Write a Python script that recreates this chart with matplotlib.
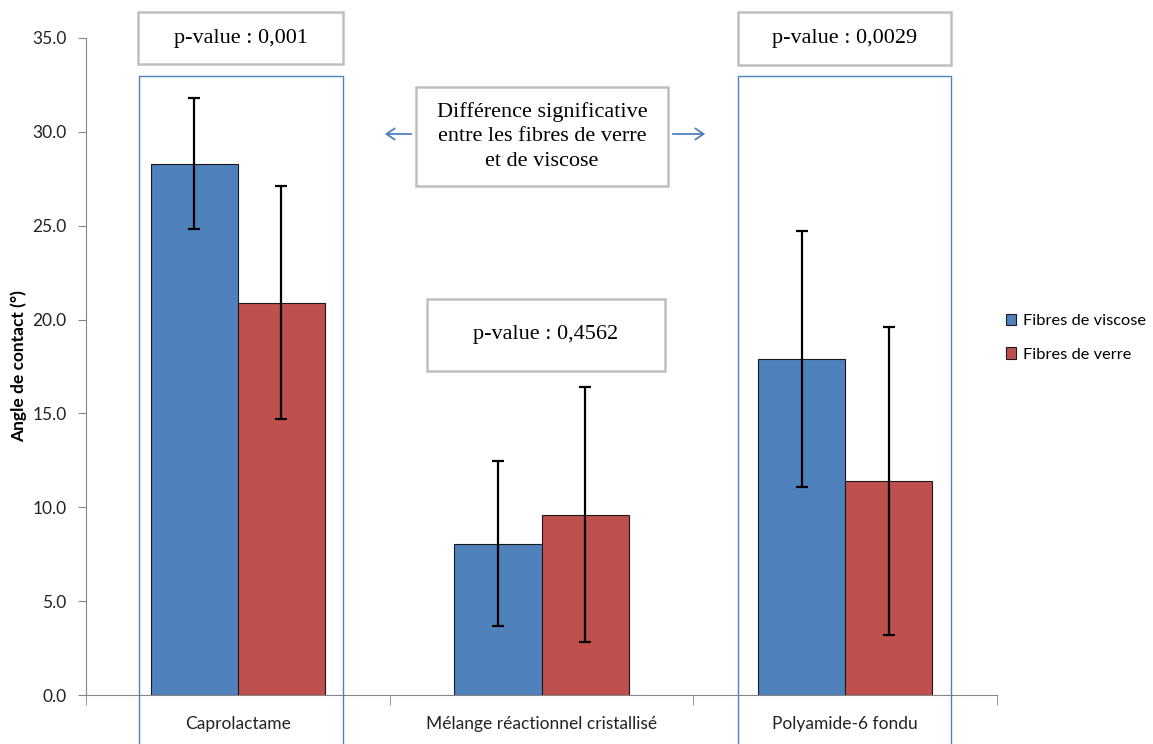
import matplotlib.pyplot as plt
from matplotlib.patches import Rectangle, FancyArrowPatch
import numpy as np

categories = ['Caprolactame', 'Mélange réactionnel cristallisé', 'Polyamide-6 fondu']
viscose = [28.3, 8.05, 17.9]
viscose_err = [3.5, 4.4, 6.8]
verre = [20.9, 9.6, 11.4]
verre_err = [6.2, 6.8, 8.2]
series_names = ['Fibres de viscose', 'Fibres de verre']
pvalues = ['p-value : 0,001', 'p-value : 0,4562', 'p-value : 0,0029']
note = 'Différence significative\nentre les fibres de verre\net de viscose'

W, H = 1153, 744
fig = plt.figure(figsize=(W / 100, H / 100), dpi=100)
plt.rcParams['font.family'] = ['Lato', 'DejaVu Sans']


def fx(px):
    return px / W


def fy(py):
    return 1 - py / H


ax = fig.add_axes([fx(86), fy(695), fx(997) - fx(86), fy(38) - fy(695)])

x = np.arange(len(categories))
bw = 0.287
blue = '#4F81BD'
red = '#C0504D'
ax.bar(x - bw / 2, viscose, bw, color=blue, edgecolor='#1a1a1a', linewidth=0.8,
       label=series_names[0], zorder=2)
ax.bar(x + bw / 2, verre, bw, color=red, edgecolor='#1a1a1a', linewidth=0.8,
       label=series_names[1], zorder=2)
ax.errorbar(x - bw / 2, viscose, yerr=viscose_err, fmt='none', ecolor='black',
            elinewidth=1.6, capsize=4, capthick=1.6, zorder=3)
ax.errorbar(x + bw / 2, verre, yerr=verre_err, fmt='none', ecolor='black',
            elinewidth=1.6, capsize=4, capthick=1.6, zorder=3)

ax.set_xlim(-0.5, len(categories) - 0.5)
ax.set_ylim(0, 35)
ax.set_yticks(np.arange(0, 35.1, 5))
ax.set_yticklabels([f'{v:.1f}' for v in np.arange(0, 35.1, 5)], fontsize=12.5, color='#222222')
ax.set_xticks(x)
ax.set_xticklabels(categories, fontsize=12.5, color='#222222')
ax.set_xticks(np.arange(-0.5, len(categories), 1), minor=True)
ax.tick_params(axis='x', which='major', length=0, pad=15)
ax.tick_params(axis='x', which='minor', length=7, color='#868686')
ax.tick_params(axis='y', length=6, color='#868686', pad=8)
for s in ['top', 'right']:
    ax.spines[s].set_visible(False)
for s in ['left', 'bottom']:
    ax.spines[s].set_color('#868686')
ax.set_ylabel('Angle de contact (°)', fontsize=12.5, fontweight='bold', labelpad=4)

leg = fig.legend(loc='upper left', bbox_to_anchor=(fx(991), fy(299)), frameon=False,
                 fontsize=11.8, handlelength=0.65, handleheight=0.7, labelspacing=1.15,
                 handletextpad=0.4)

# annotation boxes (pixel positions of the reference)
def rect(x0, y0, x1, y1, ec, lw):
    fig.patches.append(Rectangle((fx(x0), fy(y1)), fx(x1) - fx(x0), fy(y0) - fy(y1),
                                 transform=fig.transFigure, fill=False, ec=ec,
                                 lw=lw, zorder=5))


def textbox(x0, y0, x1, y1, txt):
    fig.patches.append(Rectangle((fx(x0), fy(y1)), fx(x1) - fx(x0), fy(y0) - fy(y1),
                                 transform=fig.transFigure, fc='white', ec='#BFBFBF',
                                 lw=1.8, zorder=5))
    fig.text(fx((x0 + x1) / 2), fy((y0 + y1) / 2), txt, ha='center', va='center',
             fontsize=16, family='Liberation Serif', zorder=6, linespacing=1.4)


rect(139, 76, 343, 746, '#4F81BD', 1.0)
rect(738, 76, 951, 746, '#4F81BD', 1.0)
textbox(138, 12, 343, 64, pvalues[0])
textbox(427, 299, 665, 371, pvalues[1])
textbox(738, 12, 951, 65, pvalues[2])
textbox(416, 87, 668, 186, note)

for x0, x1 in [(414, 382), (670, 708)]:
    fig.patches.append(FancyArrowPatch((fx(x0), fy(134)), (fx(x1), fy(134)),
                                       transform=fig.transFigure, arrowstyle='->,head_length=6,head_width=4',
                                       color='#4F81BD', lw=1.3, zorder=5))

fig.savefig('out.png', dpi=100)
